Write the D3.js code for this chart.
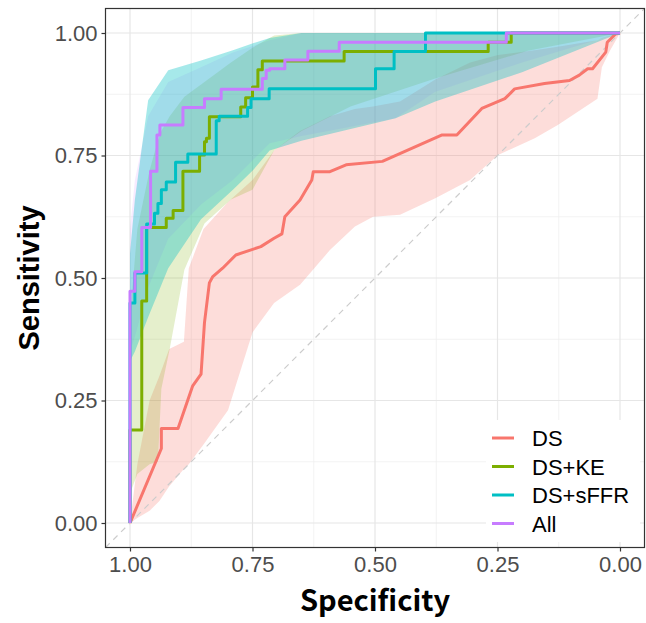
<!DOCTYPE html>
<html>
<head>
<meta charset="UTF-8">
<script src="https://d3js.org/d3.v7.min.js"></script>
<style>
  body { margin: 0; padding: 0; background: #fff; }
  svg { display: block; font-family: "Liberation Sans", Arial, sans-serif; }
</style>
</head>
<body>
<svg width="646" height="623"></svg>
<script>
const width = 646, height = 623;

// series names (legend order)
const categories = ["DS", "DS+KE", "DS+sFFR", "All"];
const tickValues = [0, 0.25, 0.5, 0.75, 1];
const tickLabels = ["0.00", "0.25", "0.50", "0.75", "1.00"];

// ROC curves: [specificity, sensitivity]
const dsCurve = [[1,0],[0.936,0.152],[0.936,0.193],[0.902,0.193],[0.872,0.28],[0.855,0.304],[0.848,0.409],
  [0.838,0.49],[0.831,0.503],[0.811,0.52],[0.784,0.547],[0.733,0.564],[0.706,0.581],[0.69,0.59],[0.684,0.625],
  [0.653,0.659],[0.629,0.7],[0.626,0.717],[0.592,0.717],[0.559,0.731],[0.485,0.738],[0.363,0.792],[0.333,0.792],
  [0.282,0.846],[0.235,0.866],[0.215,0.886],[0.154,0.897],[0.103,0.903],[0.083,0.914],[0.066,0.927],[0.056,0.927],
  [0.029,0.961],[0.026,0.981],[0.009,0.998],[0,1]];
const keCurve = [[1,0],[1,0.19],[0.976,0.19],[0.976,0.453],[0.966,0.453],[0.966,0.603],[0.926,0.603],[0.926,0.622],
  [0.912,0.622],[0.912,0.638],[0.892,0.638],[0.892,0.718],[0.858,0.718],[0.858,0.751],[0.848,0.751],[0.848,0.778],
  [0.844,0.778],[0.844,0.785],[0.838,0.785],[0.838,0.829],[0.774,0.829],[0.774,0.849],[0.764,0.849],[0.764,0.868],
  [0.75,0.868],[0.75,0.89],[0.739,0.89],[0.739,0.925],[0.73,0.925],[0.73,0.943],[0.563,0.943],[0.563,0.962],
  [0.269,0.962],[0.269,0.981],[0.222,0.981],[0.222,1],[0,1]];
const sffrCurve = [[1,0],[1,0.449],[0.99,0.449],[0.99,0.51],[0.966,0.51],[0.966,0.61],[0.95,0.61],[0.95,0.632],
  [0.943,0.632],[0.943,0.652],[0.936,0.652],[0.936,0.68],[0.926,0.68],[0.926,0.696],[0.907,0.696],[0.907,0.736],
  [0.882,0.736],[0.882,0.753],[0.824,0.753],[0.824,0.821],[0.818,0.821],[0.818,0.83],[0.76,0.83],[0.76,0.848],
  [0.753,0.848],[0.753,0.866],[0.716,0.866],[0.716,0.886],[0.499,0.886],[0.499,0.927],[0.461,0.927],[0.461,0.962],
  [0.397,0.962],[0.397,1],[0,1]];
const allCurve = [[1,0],[1,0.473],[0.99,0.473],[0.99,0.513],[0.976,0.513],[0.976,0.603],[0.958,0.603],[0.958,0.718],
  [0.945,0.718],[0.945,0.792],[0.939,0.792],[0.939,0.812],[0.892,0.812],[0.892,0.848],[0.848,0.848],[0.848,0.866],
  [0.814,0.866],[0.814,0.885],[0.73,0.885],[0.73,0.907],[0.722,0.907],[0.722,0.924],[0.715,0.924],[0.715,0.927],
  [0.684,0.927],[0.684,0.945],[0.637,0.945],[0.637,0.963],[0.573,0.963],[0.573,0.981],[0.232,0.981],[0.232,1],[0,1]];

// confidence bands: [specificity, lower, upper]
const dsBand = [[1,0,0],[0.985,0.01,0.12],[0.96,0.025,0.25],[0.94,0.045,0.3],[0.92,0.075,0.355],[0.89,0.11,0.37],
  [0.88,0.12,0.52],[0.85,0.16,0.6],[0.8,0.23,0.655],[0.75,0.389,0.7],[0.706,0.449,0.76],[0.653,0.486,0.8],
  [0.592,0.557,0.83],[0.541,0.605,0.845],[0.504,0.625,0.85],[0.449,0.629,0.86],[0.377,0.663,0.905],[0.306,0.7,0.94],
  [0.249,0.751,0.955],[0.174,0.785,0.965],[0.127,0.812,0.972],[0.046,0.866,0.985],[0.037,0.93,0.99],[0.02,0.965,0.995],[0,1,1]];
const keBand = [[1,0.06,0.42],[0.985,0.1,0.6],[0.96,0.12,0.72],[0.943,0.125,0.78],[0.936,0.274,0.8],[0.919,0.355,0.83],
  [0.889,0.517,0.87],[0.848,0.611,0.9],[0.794,0.66,0.94],[0.75,0.68,0.97],[0.706,0.76,0.995],[0.65,0.8,1],
  [0.55,0.85,1],[0.377,0.907,1],[0.188,0.964,1],[0,1,1]];
const sffrBand = [[1,0.33,0.55],[0.99,0.35,0.66],[0.963,0.42,0.863],[0.922,0.52,0.924],[0.855,0.62,0.944],
  [0.79,0.68,0.965],[0.749,0.72,0.979],[0.715,0.76,0.99],[0.65,0.78,1],[0.458,0.826,1],[0.377,0.86,1],[0.2,0.92,1],[0,1,1]];
const allBand = [[1,0.35,0.6],[0.99,0.38,0.7],[0.963,0.48,0.83],[0.922,0.58,0.9],[0.855,0.65,0.93],[0.79,0.7,0.96],
  [0.715,0.775,0.985],[0.65,0.79,1],[0.458,0.826,1],[0.377,0.88,1],[0.2,0.94,1],[0,1,1]];

const curves = [dsCurve, keCurve, sffrCurve, allCurve];
const bands = [dsBand, keBand, sffrBand, allBand];
const colors = ["#F8766D", "#7CAE00", "#00BFC4", "#C77CFF"];

const panel = { left: 105.5, right: 644.5, top: 8.5, bottom: 547.5 };

const x = d3.scaleLinear().domain([1.05, -0.05]).range([panel.left, panel.right]);
const y = d3.scaleLinear().domain([-0.05, 1.05]).range([panel.bottom, panel.top]);

const svg = d3.select("svg");

svg.append("rect").attr("width", width).attr("height", height).attr("fill", "#fff");

// grid
const minor = [0.125, 0.375, 0.625, 0.875];
const grid = svg.append("g");
minor.forEach(v => {
  grid.append("line").attr("x1", x(v)).attr("x2", x(v)).attr("y1", panel.top).attr("y2", panel.bottom)
    .attr("stroke", "#f0f0f0").attr("stroke-width", 0.8);
  grid.append("line").attr("y1", y(v)).attr("y2", y(v)).attr("x1", panel.left).attr("x2", panel.right)
    .attr("stroke", "#f0f0f0").attr("stroke-width", 0.8);
});
tickValues.forEach(v => {
  grid.append("line").attr("x1", x(v)).attr("x2", x(v)).attr("y1", panel.top).attr("y2", panel.bottom)
    .attr("stroke", "#e6e6e6").attr("stroke-width", 1.2);
  grid.append("line").attr("y1", y(v)).attr("y2", y(v)).attr("x1", panel.left).attr("x2", panel.right)
    .attr("stroke", "#e6e6e6").attr("stroke-width", 1.2);
});

// confidence ribbons
const area = d3.area()
  .x(d => x(d[0]))
  .y0(d => y(d[1]))
  .y1(d => y(d[2]));

svg.append("defs").append("clipPath").attr("id", "clip")
  .append("rect").attr("x", panel.left).attr("y", panel.top)
  .attr("width", panel.right - panel.left).attr("height", panel.bottom - panel.top);

const plot = svg.append("g").attr("clip-path", "url(#clip)");

// cyan drawn last so the overlap core reads teal
const bandOrder = [0, 1, 3, 2];
const bandOpacity = [0.25, 0.2, 0.35, 0.15];
bandOrder.forEach(i => {
  plot.append("path").datum(bands[i]).attr("d", area)
    .attr("fill", colors[i]).attr("fill-opacity", bandOpacity[i]);
});

// reference diagonal
plot.append("line")
  .attr("x1", x(1.05)).attr("y1", y(-0.05))
  .attr("x2", x(-0.05)).attr("y2", y(1.05))
  .attr("stroke", "#cccccc").attr("stroke-width", 1.2).attr("stroke-dasharray", "6,5");

// ROC lines
const line = d3.line().x(d => x(d[0])).y(d => y(d[1]));
curves.forEach((c, i) => {
  plot.append("path").datum(c).attr("d", line)
    .attr("fill", "none").attr("stroke", colors[i]).attr("stroke-width", 3)
    .attr("stroke-linejoin", "round");
});

// panel border
svg.append("rect")
  .attr("x", panel.left).attr("y", panel.top)
  .attr("width", panel.right - panel.left).attr("height", panel.bottom - panel.top)
  .attr("fill", "none").attr("stroke", "#333").attr("stroke-width", 1.2);

// axes
const xAxis = d3.axisBottom(x).tickValues(tickValues).tickFormat((d, i) => tickLabels[i]).tickSize(4).tickPadding(5);
const yAxis = d3.axisLeft(y).tickValues(tickValues).tickFormat((d, i) => tickLabels[i]).tickSize(4).tickPadding(4);

const gx = svg.append("g").attr("transform", `translate(0,${panel.bottom})`).call(xAxis);
const gy = svg.append("g").attr("transform", `translate(${panel.left},0)`).call(yAxis);
[gx, gy].forEach(g => {
  g.select(".domain").remove();
  g.selectAll(".tick line").attr("stroke", "#333").attr("stroke-width", 1.2);
  g.selectAll(".tick text").attr("fill", "#4d4d4d")
    .style("font-size", "22px").style("font-family", "'Liberation Sans', Arial, sans-serif");
});

// axis titles
svg.append("text")
  .attr("x", (panel.left + panel.right) / 2).attr("y", 611)
  .attr("text-anchor", "middle")
  .style("font-family", "'Noto Sans CJK JP', 'Noto Sans', sans-serif")
  .style("font-weight", "bold").style("font-size", "29px")
  .text("Specificity");

svg.append("text")
  .attr("transform", `translate(39,${(panel.top + panel.bottom) / 2}) rotate(-90)`)
  .attr("text-anchor", "middle")
  .style("font-family", "'Liberation Sans', Arial, sans-serif")
  .style("font-weight", "bold").style("font-size", "29px")
  .text("Sensitivity");

// legend
const legend = svg.append("g");
legend.append("rect").attr("x", 486).attr("y", 420).attr("width", 154).attr("height", 122).attr("fill", "#fff");
categories.forEach((c, i) => {
  const yy = 438 + i * 28.5;
  legend.append("line").attr("x1", 492).attr("x2", 514).attr("y1", yy).attr("y2", yy)
    .attr("stroke", colors[i]).attr("stroke-width", 3);
  legend.append("text").attr("x", 532).attr("y", yy + 8)
    .style("font-size", "22px").attr("fill", "#000")
    .text(c);
});
</script>
</body>
</html>
